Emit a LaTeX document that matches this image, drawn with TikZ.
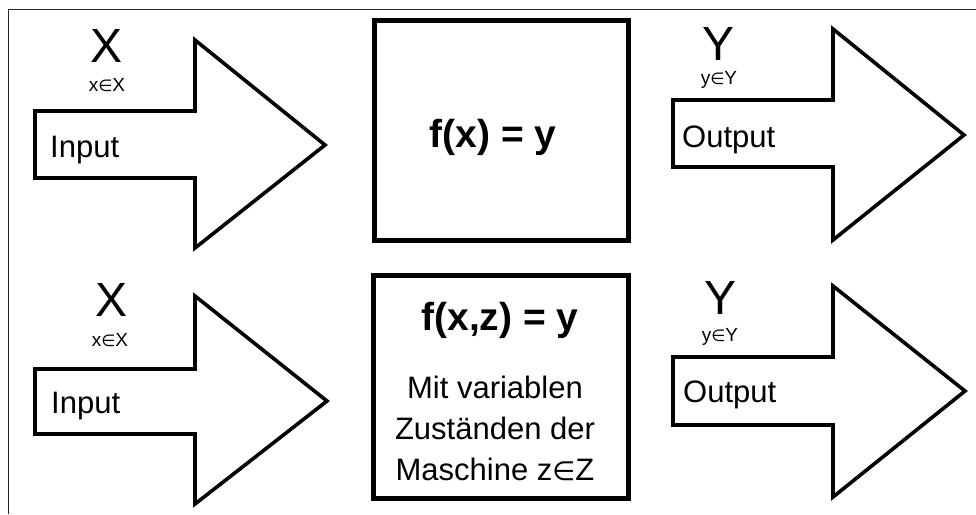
\documentclass[tikz,border=0pt]{standalone}
\usepackage{fontspec}
\setmainfont{Liberation Sans}
\newfontfamily\symfam{DejaVu Sans}
\usetikzlibrary{calc}
\newcommand{\elem}{{\symfam\scalebox{0.85}{∈}}}

\begin{document}
\begin{tikzpicture}[x=1pt,y=-1pt,
  pfeil/.style={line width=3.6pt, draw=black, fill=white, line join=miter},
  block/.style={rectangle, draw=black, line width=5pt, inner sep=0pt},
  menge/.style={inner sep=0pt, anchor=base, font=\fontsize{48}{50}\selectfont},
  elt/.style={inner sep=0pt, anchor=base, font=\fontsize{19}{21}\selectfont},
  lbl/.style={inner sep=0pt, anchor=base west, font=\fontsize{31}{34}\selectfont},
  formel/.style={inner sep=0pt, anchor=base, font=\fontsize{39}{42}\selectfont\bfseries}]%
\useasboundingbox (0,0) rectangle (976,514);
\draw[black!85, line width=1pt] (976,9) -- (8,9) -- (8,514);
% obere Zeile
\draw[pfeil] (35,111) -- (195,111) -- (195,40) -- (325,145) -- (195,248) -- (195,178) -- (35,178) -- cycle;
\draw[pfeil] (673,100) -- (833,100) -- (833,29) -- (964,135) -- (833,240) -- (833,167) -- (673,167) -- cycle;
\draw (501,130) node[block, minimum width=254pt, minimum height=220pt] (M1) {};
\draw (107,62) node[menge] (X1) {X};
\draw (107,91) node[elt] (x1) {x\elem X};
\draw (50,157) node[lbl] (in1) {Input};
\draw (493,147) node[formel] (f1) {f(x) = y};
\draw (718,60) node[menge] (Y1) {Y};
\draw (719,84) node[elt] (y1) {y\elem Y};
\draw (682,147) node[lbl] (out1) {Output};
% untere Zeile
\draw[pfeil] (35,369) -- (195,369) -- (195,296) -- (327,401) -- (195,504) -- (195,434) -- (35,434) -- cycle;
\draw[pfeil] (673,357) -- (833,357) -- (833,286) -- (965,391) -- (833,497) -- (833,425) -- (673,425) -- cycle;
\draw (500.5,386.5) node[block, minimum width=255pt, minimum height=223pt] (M2) {};
\draw (112,316) node[menge] (X2) {X};
\draw (110,346) node[elt] (x2) {x\elem X};
\draw (51,413) node[lbl] (in2) {Input};
\draw (500,330) node[formel] (f2) {f(x,z) = y};
\draw (495,480) node[inner sep=0pt, anchor=base, align=center, font=\fontsize{31}{41}\selectfont] (z2) {Mit variablen\\Zuständen der\\Maschine z\elem Z};
\draw (720,314) node[menge] (Y2) {Y};
\draw (720,341) node[elt] (y2) {y\elem Y};
\draw (683,402) node[lbl] (out2) {Output};
\end{tikzpicture}
\end{document}
